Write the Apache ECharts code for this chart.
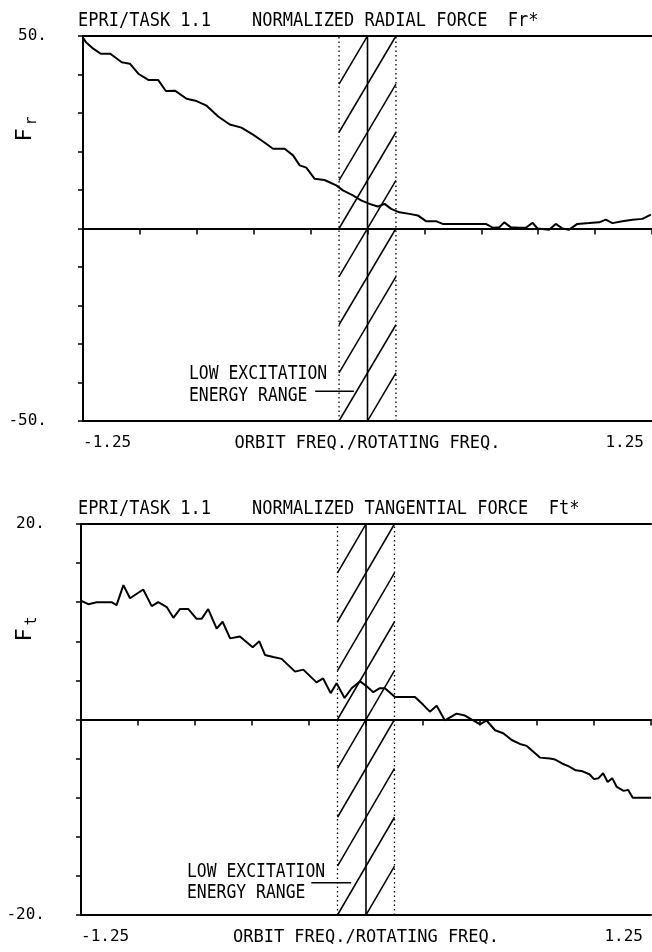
<!DOCTYPE html>
<html><head><meta charset="utf-8">
<script src="https://cdn.jsdelivr.net/npm/echarts@6/dist/echarts.min.js"></script>
<style>html,body{margin:0;padding:0;background:#fff}#c{width:652px;height:952px}</style>
</head><body><div id="c"></div>
<script>
// ---- data ----
const xMin = -1.25, xMax = 1.25, xStep = 0.25;
const xTickLabels = ['-1.25', '1.25'];
const xName = 'ORBIT FREQ./ROTATING FREQ.';

const frX = [-1.25, -1.237, -1.205, -1.172, -1.13, -1.08, -1.044, -1.007, -0.963, -0.92, -0.886, -0.846, -0.795, -0.751, -0.707, -0.656, -0.605, -0.554, -0.503, -0.459, -0.415, -0.364, -0.327, -0.298, -0.269, -0.232, -0.189, -0.137, -0.108, -0.064, -0.028, 0.009, 0.045, 0.075, 0.104, 0.14, 0.184, 0.221, 0.257, 0.301, 0.33, 0.389, 0.447, 0.52, 0.55, 0.579, 0.601, 0.63, 0.667, 0.696, 0.725, 0.747, 0.798, 0.827, 0.857, 0.886, 0.922, 0.974, 1.018, 1.047, 1.076, 1.12, 1.164, 1.208, 1.245];
const frY = [49.5, 48.4, 46.7, 45.4, 45.4, 43.2, 42.8, 40.2, 38.6, 38.6, 35.7, 35.8, 33.7, 33.1, 31.9, 29.1, 27.0, 26.2, 24.4, 22.6, 20.7, 20.7, 19.0, 16.4, 15.8, 12.9, 12.6, 11.2, 9.9, 8.6, 7.3, 6.4, 5.7, 6.4, 5.1, 4.2, 3.8, 3.4, 1.9, 1.9, 1.2, 1.2, 1.2, 1.2, 0.2, 0.3, 1.6, 0.3, 0.2, 0.2, 1.5, 0, -0.3, 1.2, 0, -0.3, 1.2, 1.4, 1.6, 2.3, 1.4, 1.9, 2.3, 2.5, 3.6];

const ftX = [-1.25, -1.218, -1.181, -1.116, -1.094, -1.064, -1.035, -0.977, -0.94, -0.911, -0.874, -0.845, -0.816, -0.779, -0.743, -0.721, -0.692, -0.655, -0.629, -0.596, -0.553, -0.497, -0.468, -0.443, -0.407, -0.37, -0.311, -0.275, -0.217, -0.188, -0.155, -0.129, -0.094, -0.063, -0.026, 0.003, 0.032, 0.061, 0.083, 0.127, 0.171, 0.215, 0.251, 0.28, 0.31, 0.346, 0.397, 0.434, 0.478, 0.5, 0.529, 0.566, 0.602, 0.639, 0.675, 0.705, 0.734, 0.763, 0.807, 0.83, 0.86, 0.89, 0.92, 0.95, 0.98, 1.0, 1.02, 1.04, 1.06, 1.08, 1.1, 1.13, 1.15, 1.17, 1.2, 1.25];
const ftY = [12.15, 11.8, 12.0, 12.0, 11.7, 13.75, 12.4, 13.3, 11.6, 12.0, 11.5, 10.4, 11.3, 11.3, 10.3, 10.3, 11.3, 9.3, 10.0, 8.3, 8.5, 7.4, 8.0, 6.6, 6.4, 6.2, 4.9, 5.1, 3.8, 4.2, 2.7, 3.7, 2.2, 3.2, 3.9, 3.4, 2.8, 3.2, 3.2, 2.3, 2.3, 2.3, 1.5, 0.8, 1.4, -0.1, 0.6, 0.4, -0.2, -0.5, -0.1, -1.1, -1.4, -2.1, -2.5, -2.7, -3.3, -3.9, -4.0, -4.1, -4.5, -4.8, -5.2, -5.3, -5.6, -6.1, -6.0, -5.5, -6.4, -6.0, -6.9, -7.3, -7.2, -8.0, -8.0, -8.0];

const frRange = [-50, 50], frStep = 10, frTickLabels = ['-50.', '50.'];
const ftRange = [-20, 20], ftStep = 4, ftTickLabels = ['-20.', '20.'];

const bandEdges = [-0.125, 0.125];
const bandCenter = 0;
const frHatchStarts = [-62.5, -50, -37.5, -25, -12.5, 0, 12.5, 25, 37.5];
const frHatchRise = 25;
const ftHatchStarts = [-25, -20, -15, -10, -5, 0, 5, 10, 15];
const ftHatchRise = 10;
const frLeaderX = [-0.23, -0.06], frLeaderY = -42.3;
const ftLeaderX = [-0.24, -0.065], ftLeaderY = -16.7;

const titles = ['EPRI/TASK 1.1    NORMALIZED RADIAL FORCE  Fr*', 'EPRI/TASK 1.1    NORMALIZED TANGENTIAL FORCE  Ft*'];
const yNames = [['F', 'r'], ['F', 't']];
const noteLines = ['LOW EXCITATION', 'ENERGY RANGE'];

// ---- chart ----
const MONO = '"DejaVu Sans Mono", "Liberation Mono", monospace';
const BLACK = '#000';

function xAxesFor(g) {
  return [
    { gridIndex: g, type: 'value', min: xMin, max: xMax, interval: xStep, position: 'bottom',
      axisLine: { onZero: true, lineStyle: { color: BLACK, width: 2 } },
      axisTick: { show: true, length: 6, lineStyle: { color: BLACK, width: 1.5 } },
      axisLabel: { show: false }, splitLine: { show: false } },
    { gridIndex: g, type: 'value', min: xMin, max: xMax, interval: xStep, position: 'bottom',
      axisLine: { onZero: false, lineStyle: { color: BLACK, width: 2 } },
      axisTick: { show: false }, splitLine: { show: false },
      axisLabel: { show: true, margin: 14, color: BLACK, fontFamily: MONO, fontSize: 16,
        alignMinLabel: 'left', alignMaxLabel: 'right', showMinLabel: true, showMaxLabel: true,
        padding: [0, 8, 0, 0],
        formatter: v => Math.abs(v - xMin) < 1e-9 ? xTickLabels[0] : (Math.abs(v - xMax) < 1e-9 ? xTickLabels[1] : '') },
      name: xName, nameLocation: 'middle', nameGap: 14, nameMoveOverlap: false,
      nameTextStyle: { color: BLACK, fontFamily: MONO, fontSize: 17 } },
    { gridIndex: g, type: 'value', min: xMin, max: xMax, interval: xStep, position: 'top',
      axisLine: { onZero: false, lineStyle: { color: BLACK, width: 2 } },
      axisTick: { show: false }, axisLabel: { show: false }, splitLine: { show: false } }
  ];
}
function yAxisFor(g, range, step, labels) {
  return { gridIndex: g, type: 'value', min: range[0], max: range[1], interval: step, position: 'left',
    axisLine: { onZero: false, lineStyle: { color: BLACK, width: 2 } },
    axisTick: { show: true, length: 5, lineStyle: { color: BLACK, width: 1.5 } },
    splitLine: { show: false },
    axisLabel: { show: true, margin: 36, color: BLACK, fontFamily: MONO, fontSize: 16,
      verticalAlign: 'middle', padding: [0, 0, 8, 0],
      formatter: v => v === range[0] ? labels[0] : (v === range[1] ? labels[1] : '') } };
}
function seriesFor(g, xs, ys, range, hatchStarts, rise, leaderX, leaderY) {
  const base = { type: 'line', xAxisIndex: g * 3, yAxisIndex: g, symbol: 'none', silent: true, animation: false, clip: true };
  const s = [];
  s.push(Object.assign({}, base, { name: g ? 'Ft' : 'Fr', data: xs.map((x, i) => [x, ys[i]]), lineStyle: { color: BLACK, width: 2 }, z: 5 }));
  bandEdges.forEach(b => s.push(Object.assign({}, base, { data: [[b, range[0]], [b, range[1]]], lineStyle: { color: BLACK, width: 1.3, type: [1.5, 3] } })));
  s.push(Object.assign({}, base, { data: [[bandCenter, range[0]], [bandCenter, range[1]]], lineStyle: { color: BLACK, width: 1.6 } }));
  hatchStarts.forEach(h => s.push(Object.assign({}, base, { data: [[bandEdges[0], h], [bandEdges[1], h + rise]], lineStyle: { color: BLACK, width: 1.5 } })));
  s.push(Object.assign({}, base, { data: leaderX.map(x => [x, leaderY]), lineStyle: { color: BLACK, width: 1.5 } }));
  return s;
}
function txt(x, y, text, opts) {
  return Object.assign({ type: 'text', x: x, y: y, silent: true,
    style: { text: text, fill: BLACK, font: '20px ' + MONO, textAlign: 'left', textVerticalAlign: 'middle', align: 'left', verticalAlign: 'middle' },
    scaleX: 0.85 }, opts || {});
}

const chart = echarts.init(document.getElementById('c'), null, { renderer: 'canvas' });
chart.setOption({
  backgroundColor: '#fff',
  animation: false,
  grid: [
    { left: 83, top: 36, right: 0, height: 385, containLabel: false, outerBoundsMode: 'none' },
    { left: 81, top: 524, right: 1, height: 391, containLabel: false, outerBoundsMode: 'none' }
  ],
  xAxis: xAxesFor(0).concat(xAxesFor(1)),
  yAxis: [yAxisFor(0, frRange, frStep, frTickLabels), yAxisFor(1, ftRange, ftStep, ftTickLabels)],
  series: seriesFor(0, frX, frY, frRange, frHatchStarts, frHatchRise, frLeaderX, frLeaderY)
    .concat(seriesFor(1, ftX, ftY, ftRange, ftHatchStarts, ftHatchRise, ftLeaderX, ftLeaderY)),
  graphic: [
    txt(78, 21, titles[0]),
    txt(78, 509, titles[1]),
    txt(189, 374, noteLines[0], { scaleX: 0.82 }),
    txt(189, 396, noteLines[1], { scaleX: 0.82 }),
    txt(187, 872, noteLines[0], { scaleX: 0.82 }),
    txt(187, 893, noteLines[1], { scaleX: 0.82 }),
    { type: 'text', x: 25, y: 135, rotation: Math.PI / 2, silent: true,
      style: { text: yNames[0][0], fill: BLACK, font: '22px ' + MONO, textAlign: 'center', textVerticalAlign: 'middle', align: 'center', verticalAlign: 'middle' } },
    { type: 'text', x: 32, y: 121, rotation: Math.PI / 2, silent: true,
      style: { text: yNames[0][1], fill: BLACK, font: '15px ' + MONO, textAlign: 'center', textVerticalAlign: 'middle', align: 'center', verticalAlign: 'middle' } },
    { type: 'text', x: 25, y: 635, rotation: Math.PI / 2, silent: true,
      style: { text: yNames[1][0], fill: BLACK, font: '22px ' + MONO, textAlign: 'center', textVerticalAlign: 'middle', align: 'center', verticalAlign: 'middle' } },
    { type: 'text', x: 32, y: 621, rotation: Math.PI / 2, silent: true,
      style: { text: yNames[1][1], fill: BLACK, font: '15px ' + MONO, textAlign: 'center', textVerticalAlign: 'middle', align: 'center', verticalAlign: 'middle' } }
  ]
});
</script></body></html>
